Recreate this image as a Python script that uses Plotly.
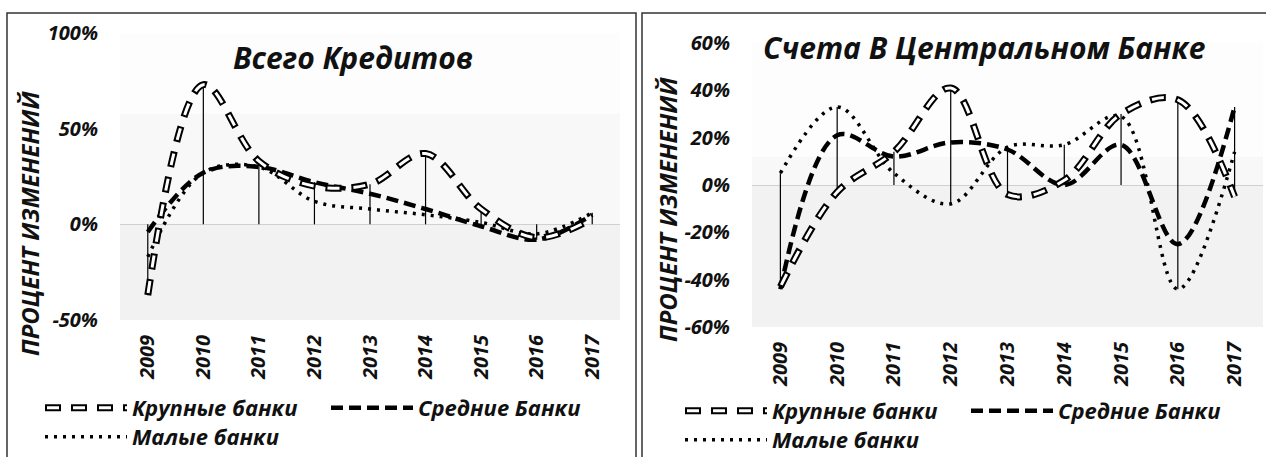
import plotly.graph_objects as go

W, H = 1266, 457

years = [2009, 2010, 2011, 2012, 2013, 2014, 2015, 2016, 2017]
year_labels = [str(y) for y in years]

# Всего Кредитов (left)
loans_large = [-37, 73, 33, 20, 21, 37, 8, -7, 3]
loans_medium = [-4, 27, 30, 22, 16, 8, -1, -8, 5]
loans_small = [-17, 27, 30, 12, 8, 5, 1, -5, 6]

# Счета В Центральном Банке (right)
cb_large = [-43, -3, 14, 41, -4, 2, 30, 36, -5]
cb_medium = [-44, 21, 12, 18, 15, 0, 17, -25, 33]
cb_small = [5, 33, 5, -8, 16, 17, 29, -44, 14]

left_ticks = [-0.5, 0, 0.5, 1.0]
left_ticktext = ["-50%", "0%", "50%", "100%"]
right_ticks = [-0.6, -0.4, -0.2, 0, 0.2, 0.4, 0.6]
right_ticktext = ["-60%", "-40%", "-20%", "0%", "20%", "40%", "60%"]

names = ["Крупные банки", "Средние Банки", "Малые банки"]
title_left = "Всего Кредитов"
title_right = "Счета В Центральном Банке"
ytitle = "ПРОЦЕНТ ИЗМЕНЕНИЙ"

FONT = "Open Sans"
def f(size, color="#111111"):
    return dict(family=FONT, size=size, color=color, weight="bold", style="italic")

LEG_SIZE = 22
LARGE_DASH_OUT = "16px,10px"
LARGE_DASH_IN = "0px,2px,12px,12px"

fig = go.Figure()

def add_panel(xa, ya, large, medium, small, leg_a, leg_b, leg_white):
    lg = [v / 100 for v in large]
    md = [v / 100 for v in medium]
    sm = [v / 100 for v in small]
    # drop lines
    dx, dy = [], []
    for i, yr in enumerate(years):
        vals = [lg[i], md[i], sm[i], 0]
        dx += [yr, yr, None]
        dy += [min(vals), max(vals), None]
    fig.add_trace(go.Scatter(x=dx, y=dy, mode="lines", xaxis=xa, yaxis=ya,
                             line=dict(color="#000000", width=1.2), showlegend=False,
                             hoverinfo="skip"))
    fig.add_trace(go.Scatter(x=years, y=sm, mode="lines", name=names[2], xaxis=xa, yaxis=ya,
                             line=dict(color="#000000", width=3.5, dash="3px,6px", shape="spline"),
                             legend=leg_b, legendrank=3))
    fig.add_trace(go.Scatter(x=years, y=md, mode="lines", name=names[1], xaxis=xa, yaxis=ya,
                             line=dict(color="#000000", width=4.5, dash="12px,6px", shape="spline"),
                             legend=leg_a, legendrank=2))
    fig.add_trace(go.Scatter(x=years, y=lg, mode="lines", name=names[0], xaxis=xa, yaxis=ya,
                             line=dict(color="#000000", width=7, dash=LARGE_DASH_OUT, shape="spline"),
                             legend=leg_a, legendrank=1))
    # inner white stroke makes the capsules hollow (also overlaid on the legend symbol)
    fig.add_trace(go.Scatter(x=years, y=lg, mode="lines", name="", xaxis=xa, yaxis=ya,
                             line=dict(color="#ffffff", width=3, dash=LARGE_DASH_IN, shape="spline"),
                             legend=leg_white, hoverinfo="skip"))

add_panel("x", "y", loans_large, loans_medium, loans_small, "legend", "legend2", "legend5")
add_panel("x2", "y2", cb_large, cb_medium, cb_small, "legend3", "legend4", "legend6")

def px_x(p):
    return p / W
def px_y(p):
    return 1 - p / H

xcommon = dict(tickmode="array", tickvals=years, ticktext=year_labels, tickangle=-90,
               range=[2008.5, 2017.5], showgrid=False, zeroline=False, showline=False,
               ticks="", tickfont=f(20), ticklabelstandoff=10, fixedrange=True)
ycommon = dict(showgrid=False, zeroline=True, zerolinecolor="#d0d0d0", zerolinewidth=1,
               showline=False, ticks="", tickfont=f(20), ticklabelstandoff=21, fixedrange=True)

fig.update_layout(
    width=W, height=H, margin=dict(l=0, r=0, t=0, b=0, autoexpand=False),
    paper_bgcolor="#ffffff", plot_bgcolor="#ffffff",
    xaxis=dict(domain=[px_x(120), px_x(620)], anchor="y", **xcommon),
    yaxis=dict(domain=[px_y(320), px_y(33)], anchor="x", range=[-0.5, 1.0],
               tickvals=left_ticks, ticktext=left_ticktext, **ycommon),
    xaxis2=dict(domain=[px_x(752), px_x(1263)], anchor="y2", **xcommon),
    yaxis2=dict(domain=[px_y(327), px_y(43)], anchor="x2", range=[-0.6, 0.6],
                tickvals=right_ticks, ticktext=right_ticktext, **ycommon),
    showlegend=True,
)

legcommon = dict(orientation="h", itemwidth=82, entrywidth=189, entrywidthmode="pixels",
                 font=f(LEG_SIZE), bgcolor="rgba(0,0,0,0)", borderwidth=0,
                 xanchor="left", yanchor="middle", tracegroupgap=0, itemclick=False)
fig.update_layout(
    legend=dict(x=px_x(40), y=px_y(408), **legcommon),
    legend2=dict(x=px_x(40), y=px_y(437), **legcommon),
    legend3=dict(x=px_x(680), y=px_y(411), **legcommon),
    legend4=dict(x=px_x(680), y=px_y(440), **legcommon),
    legend5=dict(x=px_x(40), y=px_y(408), **legcommon),
    legend6=dict(x=px_x(680), y=px_y(411), **legcommon),
)

# titles and axis titles
fig.add_annotation(text=title_left, x=px_x(353), y=px_y(57), xref="paper", yref="paper",
                   showarrow=False, font=f(30), xanchor="center", yanchor="middle")
fig.add_annotation(text=title_right, x=px_x(984), y=px_y(48), xref="paper", yref="paper",
                   showarrow=False, font=f(30), xanchor="center", yanchor="middle")
fig.add_annotation(text=ytitle, x=px_x(30), y=px_y(224), xref="paper", yref="paper",
                   showarrow=False, font=f(24), textangle=-90, xanchor="center", yanchor="middle")
fig.add_annotation(text=ytitle, x=px_x(668), y=px_y(210), xref="paper", yref="paper",
                   showarrow=False, font=f(24), textangle=-90, xanchor="center", yanchor="middle")

# plot-area gradient fill
def bands(xr, yr, zero_frac, edge_frac):
    for y0, y1, c in [(0, zero_frac, "#f2f2f2"), (zero_frac, edge_frac, "#f8f8f8"),
                      (edge_frac, 1, "#fdfdfd")]:
        fig.add_shape(type="rect", xref=xr + " domain", yref=yr + " domain",
                      x0=0, x1=1, y0=y0, y1=y1, fillcolor=c, line_width=0, layer="below")

bands("x", "y", 1 / 3, 0.72)
bands("x2", "y2", 0.5, 0.6)

# panel borders
fig.add_shape(type="rect", xref="paper", yref="paper", x0=px_x(7), x1=px_x(636),
              y0=-0.05, y1=px_y(13), line=dict(color="#333333", width=1.5))
fig.add_shape(type="rect", xref="paper", yref="paper", x0=px_x(642), x1=1.05,
              y0=-0.05, y1=px_y(13), line=dict(color="#333333", width=1.5))

fig.write_html("out.html", config={"displayModeBar": False},
               post_script="document.body.style.margin='0px';document.body.style.overflow='hidden';")
